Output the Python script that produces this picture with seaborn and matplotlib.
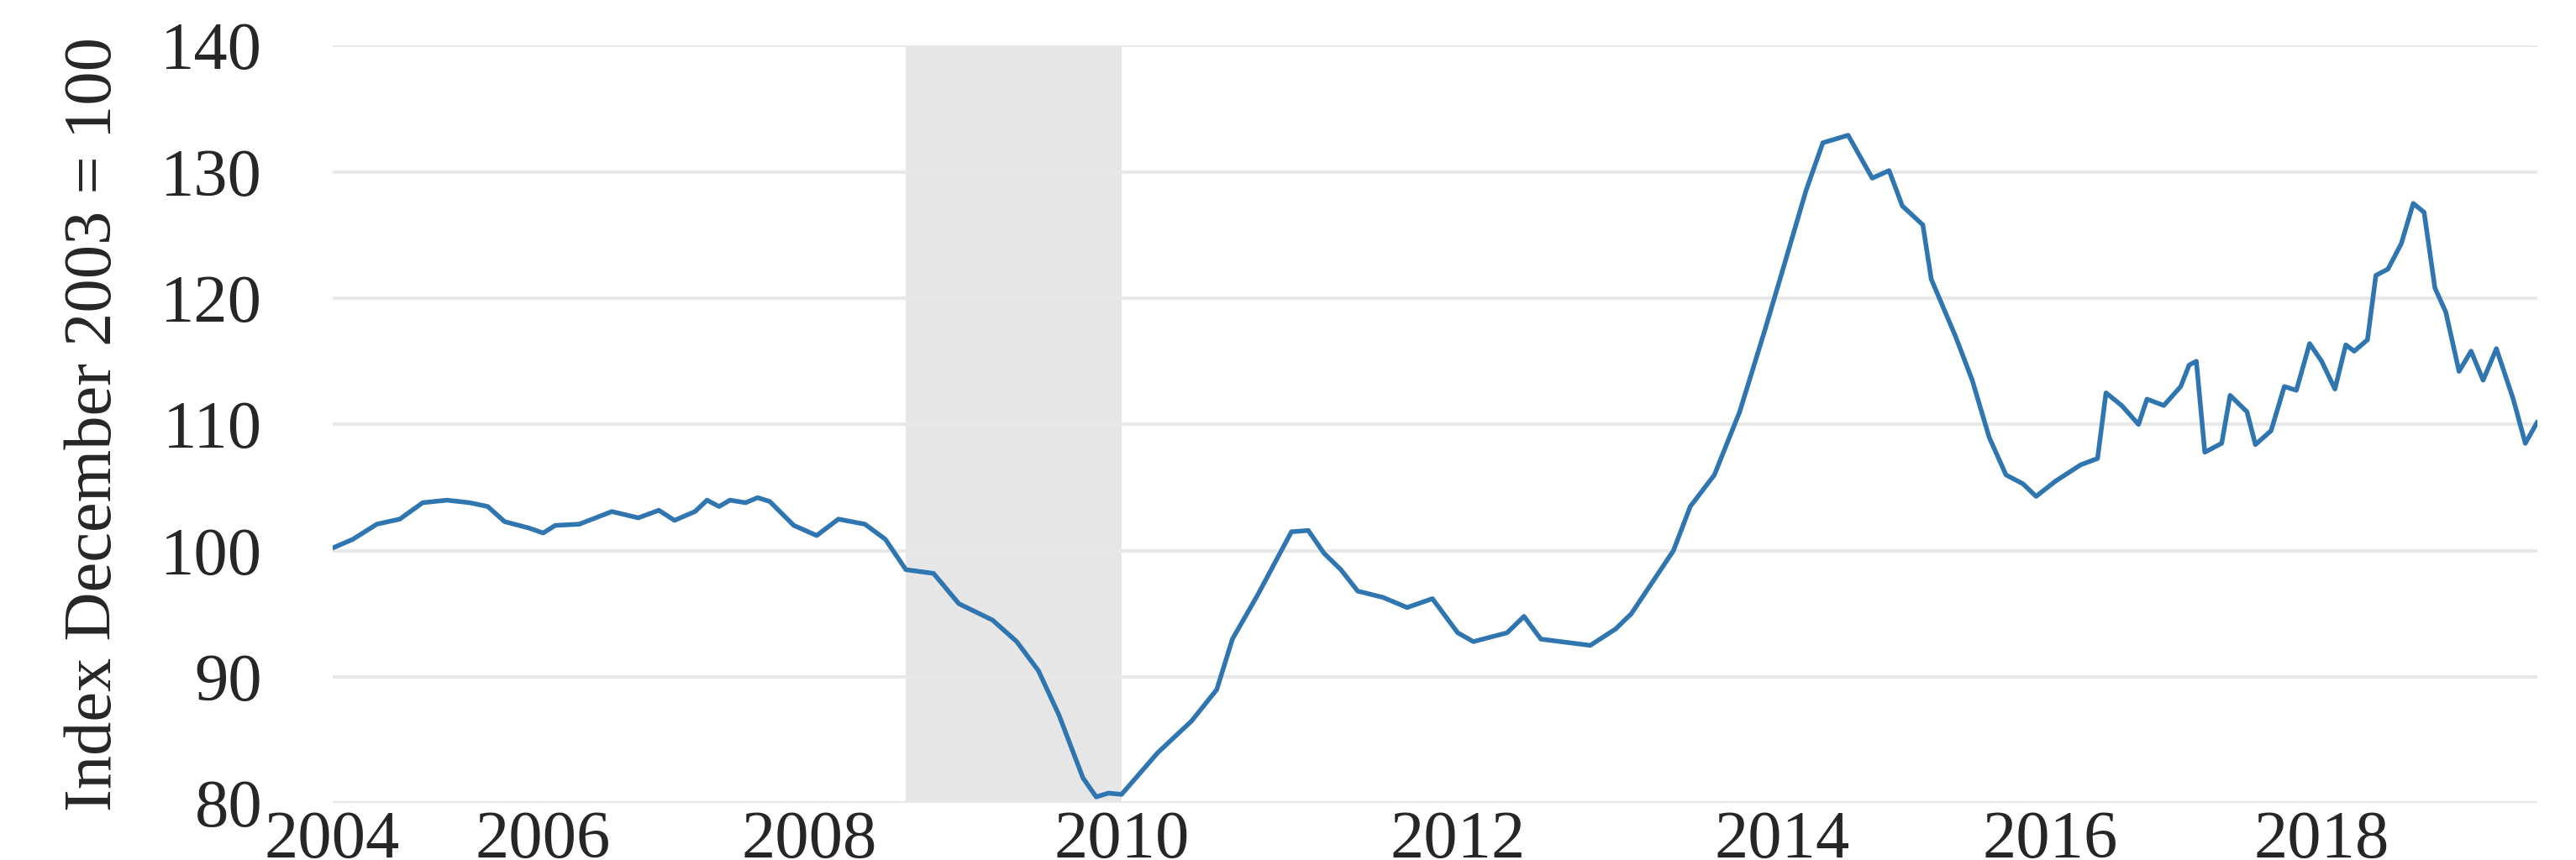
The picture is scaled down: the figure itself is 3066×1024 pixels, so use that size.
import matplotlib
matplotlib.use("Agg")
import matplotlib.pyplot as plt
import seaborn as sns
import pandas as pd

# months since January 2004 and index values
months = [0, 1.7, 3.7, 5.6, 7.5, 9.5, 11.4, 12.9, 14.3, 16.3, 17.5, 18.5, 20.5,
          23.2, 25.4, 27.1, 28.4, 30.1, 31.1, 32.1, 33.0, 34.3, 35.3, 36.3, 38.3,
          40.2, 42.0, 44.2, 45.9,
          47.6, 49.9, 52.0, 54.8, 56.8, 58.6, 60.3, 62.3, 63.4, 64.4, 65.5, 68.5,
          71.3, 73.4, 74.7, 76.8, 79.6, 81.0, 82.3, 83.7, 85.1, 87.2, 89.2, 91.3,
          93.4, 94.7, 97.5, 98.9, 100.3, 104.4, 106.5, 107.8, 109.9, 111.3, 112.7,
          114.7, 116.8, 118.9, 120.3, 122.3, 123.7, 125.8, 127.8, 129.2, 130.3,
          132.0, 132.7, 134.7, 136.1, 137.5, 138.9, 140.3, 141.4, 143.0, 145.1,
          146.5, 147.2, 148.5, 149.9, 150.6, 152.0, 153.4, 154.1, 154.7, 155.4,
          156.8, 157.5, 158.9, 159.6, 160.9, 162.0, 163.0, 164.1, 165.1, 166.2,
          167.1, 167.8, 168.9, 169.6, 170.6, 171.7, 172.7, 173.6, 174.5, 175.4,
          176.5, 177.5, 178.5, 179.6, 181.0, 182.0, 183.0]
index = [100.2, 100.9, 102.1, 102.5, 103.8, 104.0, 103.8, 103.5, 102.3, 101.8,
         101.4, 102.0, 102.1, 103.1, 102.6, 103.2, 102.4, 103.1, 104.0, 103.5,
         104.0, 103.8, 104.2, 103.9, 102.0, 101.2, 102.5, 102.1, 100.9,
         98.5, 98.2, 95.8, 94.5, 92.8, 90.5, 87.0, 82.0, 80.5, 80.8,
         80.7, 84.0, 86.5, 89.0, 93.0, 96.5, 101.5, 101.6, 99.8, 98.5, 96.8, 96.3,
         95.5, 96.2, 93.5, 92.8, 93.5, 94.8, 93.0, 92.5, 93.8, 95.0, 98.0, 100.0,
         103.5, 106.0, 111.0, 117.5, 122.0, 128.5, 132.3, 132.9, 129.5, 130.1,
         127.3, 125.8, 121.5, 117.0, 113.5, 109.0, 106.0, 105.3, 104.3, 105.5,
         106.8, 107.3, 112.5, 111.5, 110.0, 112.0, 111.5, 113.0, 114.7, 115.0,
         107.8, 108.5, 112.3, 111.0, 108.4, 109.5, 113.0, 112.7, 116.4, 115.0,
         112.8, 116.3, 115.8, 116.7, 121.8, 122.3, 124.3, 127.5, 126.8, 120.8,
         118.9, 114.2, 115.8, 113.5, 116.0, 112.0, 108.5, 110.2]
tick_pos = [0, 17.5, 39.6, 65.5, 93.4, 120.3, 142.6, 165.1]
tick_labels = ["2004", "2006", "2008", "2010", "2012", "2014", "2016", "2018"]
recession = (47.6, 65.5)

df = pd.DataFrame({"month": months, "index": index})

sns.set_style("white")
plt.rcParams["font.family"] = ["Liberation Serif", "DejaVu Serif"]

fig = plt.figure(figsize=(30.66, 10.24), dpi=100)
ax = fig.add_axes([0.129, 0.066, 0.856, 0.881])

ax.axvspan(*recession, color="#e6e6e6", lw=0, zorder=0)
for y in range(80, 141, 10):
    ax.axhline(y, color="#e8e8e8", lw=3, zorder=0.5)
sns.lineplot(data=df, x="month", y="index", ax=ax, color="#2f75b0", lw=4, zorder=3)

ax.set_xlim(0, 183)
ax.set_ylim(80, 140)
ax.set_yticks(range(80, 141, 10))
ax.set_xticks(tick_pos)
ax.set_xticklabels(tick_labels)
ax.tick_params(labelsize=58, length=0)
ax.tick_params(axis="x", pad=6)
ax.tick_params(axis="y", pad=60)
ax.set_xlabel("")
ax.set_ylabel("Index December 2003 = 100", fontsize=58, labelpad=30)
for s in ax.spines.values():
    s.set_visible(False)

fig.savefig("out.png", dpi=100)
